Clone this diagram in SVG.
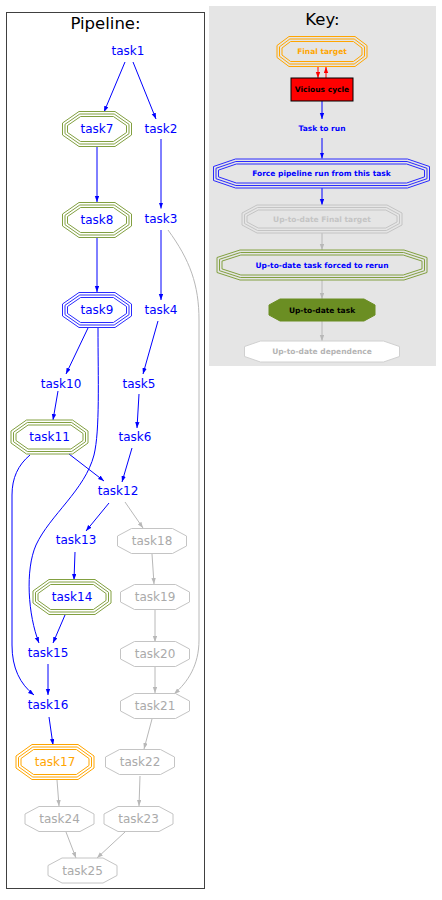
<svg xmlns="http://www.w3.org/2000/svg" width="442" height="900" viewBox="0 0 442 900">
<defs>
<marker id="ab" markerUnits="userSpaceOnUse" markerWidth="7" markerHeight="5" refX="6" refY="2.2" orient="auto"><path d="M0,0 L6,2.2 L0,4.4 z" fill="#0000ff"/></marker>
<marker id="ag" markerUnits="userSpaceOnUse" markerWidth="7" markerHeight="5" refX="6" refY="2.2" orient="auto"><path d="M0,0 L6,2.2 L0,4.4 z" fill="#b8b8b8"/></marker>
<marker id="ar" markerUnits="userSpaceOnUse" markerWidth="7" markerHeight="5" refX="6" refY="2.2" orient="auto"><path d="M0,0 L6,2.2 L0,4.4 z" fill="#ff0000"/></marker>
</defs>
<style>
text{font-family:"DejaVu Sans","Liberation Sans",sans-serif;text-anchor:middle}
.t{font-size:12px}
.k{font-size:7.5px;font-weight:bold}
.title{font-size:16.5px;fill:#000}
.blue{fill:#0000ff}
.gray{fill:#aaaaaa}
.orange{fill:#ffa500}
polygon{fill:none;stroke-width:1}
.ol polygon{stroke:#82a040}
.bl polygon{stroke:#2a2aff}
.or polygon{stroke:#ffa500}
.gr polygon{stroke:#c4c4c4}
.e{fill:none;stroke-width:1}
.eb{stroke:#0000ff;marker-end:url(#ab)}
.eg{stroke:#b8b8b8;marker-end:url(#ag)}
.er{stroke:#ff0000;marker-end:url(#ar)}
</style>
<rect x="6.5" y="12.5" width="198" height="876" fill="#ffffff" stroke="#404040"/>
<rect x="209" y="6" width="227" height="360" fill="#e5e5e5"/>
<text class="title" x="105.5" y="29">Pipeline:</text>
<text class="title" x="322.5" y="25">Key:</text>

<g id="connectors">
<path class="e eb" d="M125,62 L104,112"/>
<path class="e eb" d="M133,62 L156,119"/>
<path class="e eb" d="M97,147 L97,202"/>
<path class="e eb" d="M161,139 L161,208.5"/>
<path class="e eb" d="M97,237 L97,292"/>
<path class="e eb" d="M161,230 L161,300"/>
<path class="e eb" d="M88,328 L66,374"/>
<path class="e eb" d="M158,321 L143,374"/>
<path class="e eb" d="M58,391 L53,420"/>
<path class="e eb" d="M139,394 L137,428"/>
<path class="e eb" d="M69,454 L104,481"/>
<path class="e eb" d="M132,448 L122,482"/>
<path class="e eb" d="M109,503 L86,531"/>
<path class="e eg" d="M125,502 L143,528"/>
<path class="e eb" d="M75,552 L74,580"/>
<path class="e eg" d="M152,554 L154,584"/>
<path class="e eb" d="M65,615 L53,643"/>
<path class="e eg" d="M155,610 L155,642"/>
<path class="e eb" d="M48,664 L48,695"/>
<path class="e eg" d="M155,667 L155,693"/>
<path class="e eb" d="M49,717 L53,745"/>
<path class="e eg" d="M152,719 L144,749"/>
<path class="e eg" d="M57,780 L59,806"/>
<path class="e eg" d="M140,776 L139,806"/>
<path class="e eg" d="M66,832 L76,858"/>
<path class="e eg" d="M125,832 L97,858"/>
<path class="e eg" d="M168,230 C190,260 199,285 199,320 L199,640 C199,665 188,682 174,694"/>
<path class="e eb" d="M98,328 C98,380 100,430 94,455 C85,490 50,515 36,545 C25,570 28,615 39,643"/>
<path class="e eb" d="M30,455 C18,465 12,478 12,495 L12,645 C12,668 20,684 34,695"/>
<path class="e er" d="M318,66 L318,78"/>
<path class="e er" d="M326,78 L326,67"/>
<path class="e eb" d="M322,101 L322,119"/>
<path class="e eb" d="M322,138 L322,158.5"/>
<path class="e eb" d="M322,188 L322,205"/>
<path class="e eg" d="M322,233 L322,250"/>
<path class="e eg" d="M322,280 L322,299"/>
<path class="e eg" d="M322,321 L322,341"/>
</g>

<g id="task1"><text class="t blue" x="128" y="55.4">task1</text></g>
<g id="task2"><text class="t blue" x="161" y="133.4">task2</text></g>
<g id="task3"><text class="t blue" x="161" y="223.4">task3</text></g>
<g id="task4"><text class="t blue" x="161" y="314.4">task4</text></g>
<g id="task5"><text class="t blue" x="139" y="388.4">task5</text></g>
<g id="task6"><text class="t blue" x="135" y="441.4">task6</text></g>
<g id="task10"><text class="t blue" x="61" y="388.4">task10</text></g>
<g id="task12"><text class="t blue" x="118" y="495.4">task12</text></g>
<g id="task13"><text class="t blue" x="76" y="544.4">task13</text></g>
<g id="task15"><text class="t blue" x="48" y="657.4">task15</text></g>
<g id="task16"><text class="t blue" x="48" y="709.4">task16</text></g>

<g id="task7" class="ol" transform="translate(97,129)">
<polygon points="-18,-17.5 18,-17.5 34.5,-6 34.5,6 18,17.5 -18,17.5 -34.5,6 -34.5,-6"/>
<polygon points="-17.2,-15 17.2,-15 32,-4.7 32,4.7 17.2,15 -17.2,15 -32,4.7 -32,-4.7"/>
<polygon points="-16.4,-12.5 16.4,-12.5 29.5,-3.5 29.5,3.5 16.4,12.5 -16.4,12.5 -29.5,3.5 -29.5,-3.5"/>
<text class="t blue" x="0" y="4.4">task7</text></g>
<g id="task8" class="ol" transform="translate(97,220)">
<polygon points="-18,-17.5 18,-17.5 34.5,-6 34.5,6 18,17.5 -18,17.5 -34.5,6 -34.5,-6"/>
<polygon points="-17.2,-15 17.2,-15 32,-4.7 32,4.7 17.2,15 -17.2,15 -32,4.7 -32,-4.7"/>
<polygon points="-16.4,-12.5 16.4,-12.5 29.5,-3.5 29.5,3.5 16.4,12.5 -16.4,12.5 -29.5,3.5 -29.5,-3.5"/>
<text class="t blue" x="0" y="4.4">task8</text></g>
<g id="task9" class="bl" transform="translate(97,310)">
<polygon points="-18,-17.5 18,-17.5 34.5,-6 34.5,6 18,17.5 -18,17.5 -34.5,6 -34.5,-6"/>
<polygon points="-17.2,-15 17.2,-15 32,-4.7 32,4.7 17.2,15 -17.2,15 -32,4.7 -32,-4.7"/>
<polygon points="-16.4,-12.5 16.4,-12.5 29.5,-3.5 29.5,3.5 16.4,12.5 -16.4,12.5 -29.5,3.5 -29.5,-3.5"/>
<text class="t blue" x="0" y="4.4">task9</text></g>
<g id="task11" class="ol" transform="translate(49.5,437)">
<polygon points="-23,-17 23,-17 38.5,-6 38.5,6 23,17 -23,17 -38.5,6 -38.5,-6"/>
<polygon points="-22.2,-14.5 22.2,-14.5 36,-4.7 36,4.7 22.2,14.5 -22.2,14.5 -36,4.7 -36,-4.7"/>
<polygon points="-21.4,-12 21.4,-12 33.5,-3.5 33.5,3.5 21.4,12 -21.4,12 -33.5,3.5 -33.5,-3.5"/>
<text class="t blue" x="0" y="4.4">task11</text></g>
<g id="task14" class="ol" transform="translate(72,597)">
<polygon points="-23,-17.5 23,-17.5 39,-6 39,6 23,17.5 -23,17.5 -39,6 -39,-6"/>
<polygon points="-22.2,-15 22.2,-15 36.5,-4.7 36.5,4.7 22.2,15 -22.2,15 -36.5,4.7 -36.5,-4.7"/>
<polygon points="-21.4,-12.5 21.4,-12.5 34,-3.5 34,3.5 21.4,12.5 -21.4,12.5 -34,3.5 -34,-3.5"/>
<text class="t blue" x="0" y="4.4">task14</text></g>
<g id="task17" class="or" transform="translate(55,762)">
<polygon points="-23,-17.5 23,-17.5 39,-6 39,6 23,17.5 -23,17.5 -39,6 -39,-6"/>
<polygon points="-22.2,-15 22.2,-15 36.5,-4.7 36.5,4.7 22.2,15 -22.2,15 -36.5,4.7 -36.5,-4.7"/>
<polygon points="-21.4,-12.5 21.4,-12.5 34,-3.5 34,3.5 21.4,12.5 -21.4,12.5 -34,3.5 -34,-3.5"/>
<text class="t orange" x="0" y="4.4">task17</text></g>

<g id="task18" class="gr" transform="translate(152,541)"><polygon points="-20.5,-12.5 20.5,-12.5 34.5,-5 34.5,5 20.5,12.5 -20.5,12.5 -34.5,5 -34.5,-5"/><text class="t gray" x="0" y="4.4">task18</text></g>
<g id="task19" class="gr" transform="translate(155,597)"><polygon points="-20.5,-12.5 20.5,-12.5 34.5,-5 34.5,5 20.5,12.5 -20.5,12.5 -34.5,5 -34.5,-5"/><text class="t gray" x="0" y="4.4">task19</text></g>
<g id="task20" class="gr" transform="translate(155,654)"><polygon points="-20.5,-12.5 20.5,-12.5 34.5,-5 34.5,5 20.5,12.5 -20.5,12.5 -34.5,5 -34.5,-5"/><text class="t gray" x="0" y="4.4">task20</text></g>
<g id="task21" class="gr" transform="translate(155,706)"><polygon points="-20.5,-12.5 20.5,-12.5 34.5,-5 34.5,5 20.5,12.5 -20.5,12.5 -34.5,5 -34.5,-5"/><text class="t gray" x="0" y="4.4">task21</text></g>
<g id="task22" class="gr" transform="translate(140,762)"><polygon points="-20.5,-12.5 20.5,-12.5 34.5,-5 34.5,5 20.5,12.5 -20.5,12.5 -34.5,5 -34.5,-5"/><text class="t gray" x="0" y="4.4">task22</text></g>
<g id="task23" class="gr" transform="translate(138.5,819)"><polygon points="-20.5,-12.5 20.5,-12.5 34.5,-5 34.5,5 20.5,12.5 -20.5,12.5 -34.5,5 -34.5,-5"/><text class="t gray" x="0" y="4.4">task23</text></g>
<g id="task24" class="gr" transform="translate(59.5,819)"><polygon points="-20.5,-12.5 20.5,-12.5 34.5,-5 34.5,5 20.5,12.5 -20.5,12.5 -34.5,5 -34.5,-5"/><text class="t gray" x="0" y="4.4">task24</text></g>
<g id="task25" class="gr" transform="translate(82.5,870.5)"><polygon points="-20.5,-12.5 20.5,-12.5 34.5,-5 34.5,5 20.5,12.5 -20.5,12.5 -34.5,5 -34.5,-5"/><text class="t gray" x="0" y="4.4">task25</text></g>

<g id="key-final-target" class="or" transform="translate(322,51.5)">
<polygon points="-33,-15 33,-15 45,-6 45,6 33,15 -33,15 -45,6 -45,-6"/>
<polygon points="-32.2,-12.5 32.2,-12.5 42.5,-4.75 42.5,4.75 32.2,12.5 -32.2,12.5 -42.5,4.75 -42.5,-4.75"/>
<polygon points="-31.4,-10 31.4,-10 40,-3.5 40,3.5 31.4,10 -31.4,10 -40,3.5 -40,-3.5"/>
<text class="k orange" x="0" y="2.7">Final target</text></g>
<g id="key-vicious-cycle"><rect x="291" y="78" width="62" height="23" fill="#ff0000" stroke="#000000"/><text class="k" x="322" y="92.2" fill="#000000">Vicious cycle</text></g>
<g id="key-task-to-run"><text class="k blue" x="322" y="130.7">Task to run</text></g>
<g id="key-force" class="bl" transform="translate(321.5,173.5)">
<polygon points="-86,-14.5 86,-14.5 108,-7 108,7 86,14.5 -86,14.5 -108,7 -108,-7"/>
<polygon points="-85.6,-12 85.6,-12 105.5,-5.2 105.5,5.2 85.6,12 -85.6,12 -105.5,5.2 -105.5,-5.2"/>
<polygon points="-85.2,-9.5 85.2,-9.5 103,-3.4 103,3.4 85.2,9.5 -85.2,9.5 -103,3.4 -103,-3.4"/>
<text class="k blue" x="0" y="2.7">Force pipeline run from this task</text></g>
<g id="key-uptodate-final" class="gr" transform="translate(322,219)">
<polygon points="-65,-14 65,-14 80,-6 80,6 65,14 -65,14 -80,6 -80,-6"/>
<polygon points="-64.4,-11.5 64.4,-11.5 77.5,-4.5 77.5,4.5 64.4,11.5 -64.4,11.5 -77.5,4.5 -77.5,-4.5"/>
<polygon points="-63.8,-9 63.8,-9 75,-3 75,3 63.8,9 -63.8,9 -75,3 -75,-3"/>
<text class="k" x="0" y="2.7" fill="#c4c4c4">Up-to-date Final target</text></g>
<g id="key-forced" class="ol" transform="translate(322,265)">
<polygon points="-82,-15 82,-15 105,-7.5 105,7.5 82,15 -82,15 -105,7.5 -105,-7.5"/>
<polygon points="-81.6,-12.5 81.6,-12.5 102.5,-5.7 102.5,5.7 81.6,12.5 -81.6,12.5 -102.5,5.7 -102.5,-5.7"/>
<polygon points="-81.2,-10 81.2,-10 100,-3.9 100,3.9 81.2,10 -81.2,10 -100,3.9 -100,-3.9"/>
<text class="k blue" x="0" y="2.7">Up-to-date task forced to rerun</text></g>
<g id="key-uptodate-task" transform="translate(322,310)">
<polygon points="-42,-11 42,-11 53,-5 53,5 42,11 -42,11 -53,5 -53,-5" style="fill:#6b8e23;stroke:#6b8e23"/>
<text class="k" x="0" y="2.7" fill="#000000">Up-to-date task</text></g>
<g id="key-uptodate-dependence" transform="translate(322,351.5)">
<polygon points="-61.5,-10.5 61.5,-10.5 77.5,-5 77.5,5 61.5,10.5 -61.5,10.5 -77.5,5 -77.5,-5" style="fill:#ffffff;stroke:#d0d0d0"/>
<text class="k" x="0" y="2.7" fill="#b4b4b4">Up-to-date dependence</text></g>
</svg>
